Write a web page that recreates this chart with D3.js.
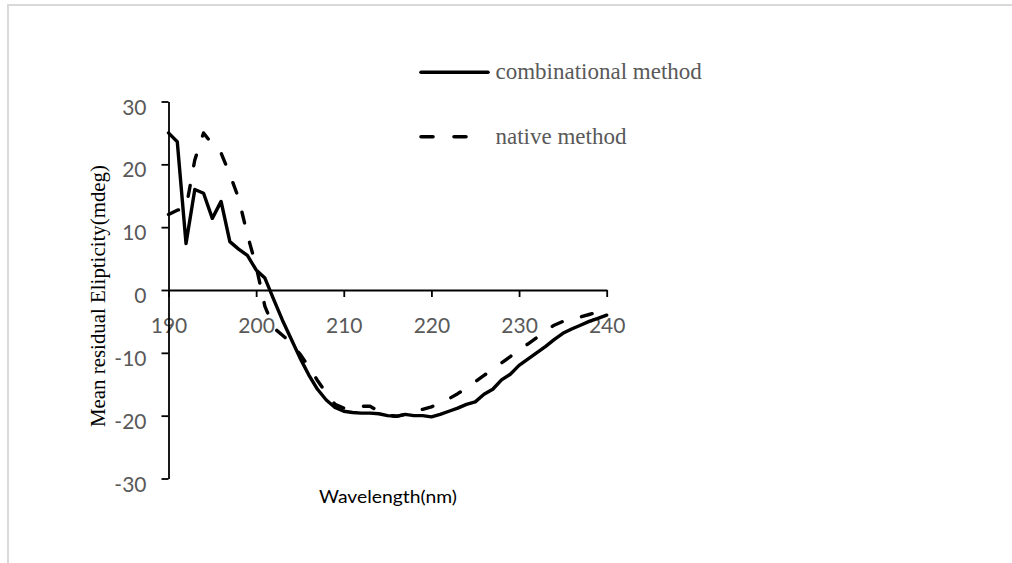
<!DOCTYPE html>
<html>
<head>
<meta charset="utf-8">
<script src="https://cdn.jsdelivr.net/npm/d3@7"></script>
<style>
  body { margin: 0; background: #fff; }
  svg { display: block; }
</style>
</head>
<body>
<div id="chart"></div>
<script>
// CD spectra, values
var wavelengths = d3.range(190, 241);

var combinational = [
  25.0, 23.6, 7.4, 16.0, 15.4, 11.4, 14.1, 7.7, 6.5, 5.5,
  3.2, 1.9, -1.5, -4.8, -7.8, -10.8, -13.5, -15.8, -17.5, -18.7,
  -19.3, -19.5, -19.6, -19.6, -19.7, -20.0, -20.1, -19.8, -20.0, -20.0,
  -20.2, -19.8, -19.3, -18.8, -18.2, -17.8, -16.6, -15.8, -14.3, -13.4,
  -12.0, -11.0, -10.0, -9.0, -7.9, -6.9, -6.2, -5.6, -5.0, -4.5,
  -4.0
];

var native = [
  12.0, 12.7, 13.0, 20.7, 25.0, 23.2, 21.8, 18.4, 14.6, 8.8,
  3.8, -2.6, -6.0, -7.2, -8.4, -10.2, -12.2, -14.4, -16.4, -18.2,
  -18.8, -18.7, -18.5, -18.5, -19.3, -19.9, -20.1, -19.8, -19.3, -19.0,
  -18.6, -18.0, -17.3, -16.5, -15.6, -14.6, -13.6, -12.6, -11.6, -10.6,
  -9.5, -8.6, -7.6, -6.6, -5.6, -5.0, -4.6, -4.3, -3.9, -3.5,
  -3.1
];

var xTicks = [190, 200, 210, 220, 230, 240];
var yTicks = [-30, -20, -10, 0, 10, 20, 30];

var seriesNames = ['combinational method', 'native method'];

var width = 1012,
    height = 563,
    dashes = '11,20',
    lineWidth = 3.4;

var svg = d3.select('#chart').append('svg')
    .attr('width', width)
    .attr('height', height);

// light frame around the figure
svg.append('path')
    .attr('d', 'M8,' + height + 'V5H' + width)
    .attr('fill', 'none')
    .attr('stroke', '#d9d9d9')
    .attr('stroke-width', 2);

var xScale = d3.scaleLinear().domain([190, 240]).range([168.5, 606.7]);
var yScale = d3.scaleLinear().domain([-30, 30]).range([478.5, 101.5]);

// plain hyphen for negatives, like the original
var plain = function(d) { return String(d); };

// x axis sits on y = 0
var xAxis = d3.axisBottom(xScale)
    .tickValues(xTicks)
    .tickSize(7)
    .tickSizeOuter(0)
    .tickFormat(plain);

var gx = svg.append('g')
    .attr('class', 'axis x')
    .attr('transform', 'translate(0,' + yScale(0) + ')')
    .call(xAxis);

var yAxis = d3.axisLeft(yScale)
    .tickValues(yTicks)
    .tickSize(7)
    .tickSizeOuter(0)
    .tickFormat(plain);

var gy = svg.append('g')
    .attr('class', 'axis y')
    .attr('transform', 'translate(' + xScale(190) + ',0)')
    .call(yAxis);

svg.selectAll('.axis path, .axis line')
    .attr('stroke', '#000')
    .attr('stroke-width', 1.8);

gx.selectAll('text')
    .attr('y', 43)
    .attr('dy', 0)
    .attr('fill', '#595959')
    .style('font-family', 'Lato, sans-serif')
    .style('font-size', '21px');

gy.selectAll('text')
    .attr('x', -22)
    .attr('y', 12.5)
    .attr('dy', 0)
    .attr('fill', '#595959')
    .style('font-family', 'Lato, sans-serif')
    .style('font-size', '21px');

// axis titles
svg.append('text')
    .attr('x', 388)
    .attr('y', 503)
    .attr('text-anchor', 'middle')
    .attr('textLength', 138)
    .attr('lengthAdjust', 'spacingAndGlyphs')
    .style('font-family', 'Lato, sans-serif')
    .style('font-size', '18px')
    .attr('fill', '#000')
    .text('Wavelength(nm)');

svg.append('text')
    .attr('transform', 'translate(105,296) rotate(-90)')
    .attr('text-anchor', 'middle')
    .attr('textLength', 262)
    .attr('lengthAdjust', 'spacingAndGlyphs')
    .style('font-family', '"Liberation Serif", "Times New Roman", serif')
    .style('font-size', '22px')
    .attr('fill', '#000')
    .text('Mean residual Elipticity(mdeg)');

// curves
var line = d3.line()
    .x(function(d) { return xScale(d[0]); })
    .y(function(d) { return yScale(d[1]); });

var series = [
  { name: seriesNames[0], values: combinational, dash: null },
  { name: seriesNames[1], values: native, dash: dashes }
];

svg.selectAll('path.series')
    .data(series)
    .enter().append('path')
    .attr('class', 'series')
    .attr('d', function(s) {
      return line(wavelengths.map(function(w, i) { return [w, s.values[i]]; }));
    })
    .attr('fill', 'none')
    .attr('stroke', '#000')
    .attr('stroke-width', lineWidth)
    .attr('stroke-linejoin', 'round')
    .attr('stroke-linecap', 'round')
    .attr('stroke-dasharray', function(s) { return s.dash; });

// legend
var legend = svg.selectAll('g.legend')
    .data(series)
    .enter().append('g')
    .attr('class', 'legend')
    .attr('transform', function(d, i) { return 'translate(0,' + (72.3 + i * 64.4) + ')'; });

legend.append('line')
    .attr('x1', 421)
    .attr('x2', function(d) { return d.dash ? 468 : 488; })
    .attr('stroke', '#000')
    .attr('stroke-width', 3.6)
    .attr('stroke-linecap', 'round')
    .attr('stroke-dasharray', function(d) { return d.dash ? '12,21' : null; });

legend.append('text')
    .attr('x', 495.5)
    .attr('y', 7)
    .attr('fill', '#595959')
    .style('font-family', '"Liberation Serif", "Times New Roman", serif')
    .style('font-size', '23px')
    .text(function(d) { return d.name; });
</script>
</body>
</html>
